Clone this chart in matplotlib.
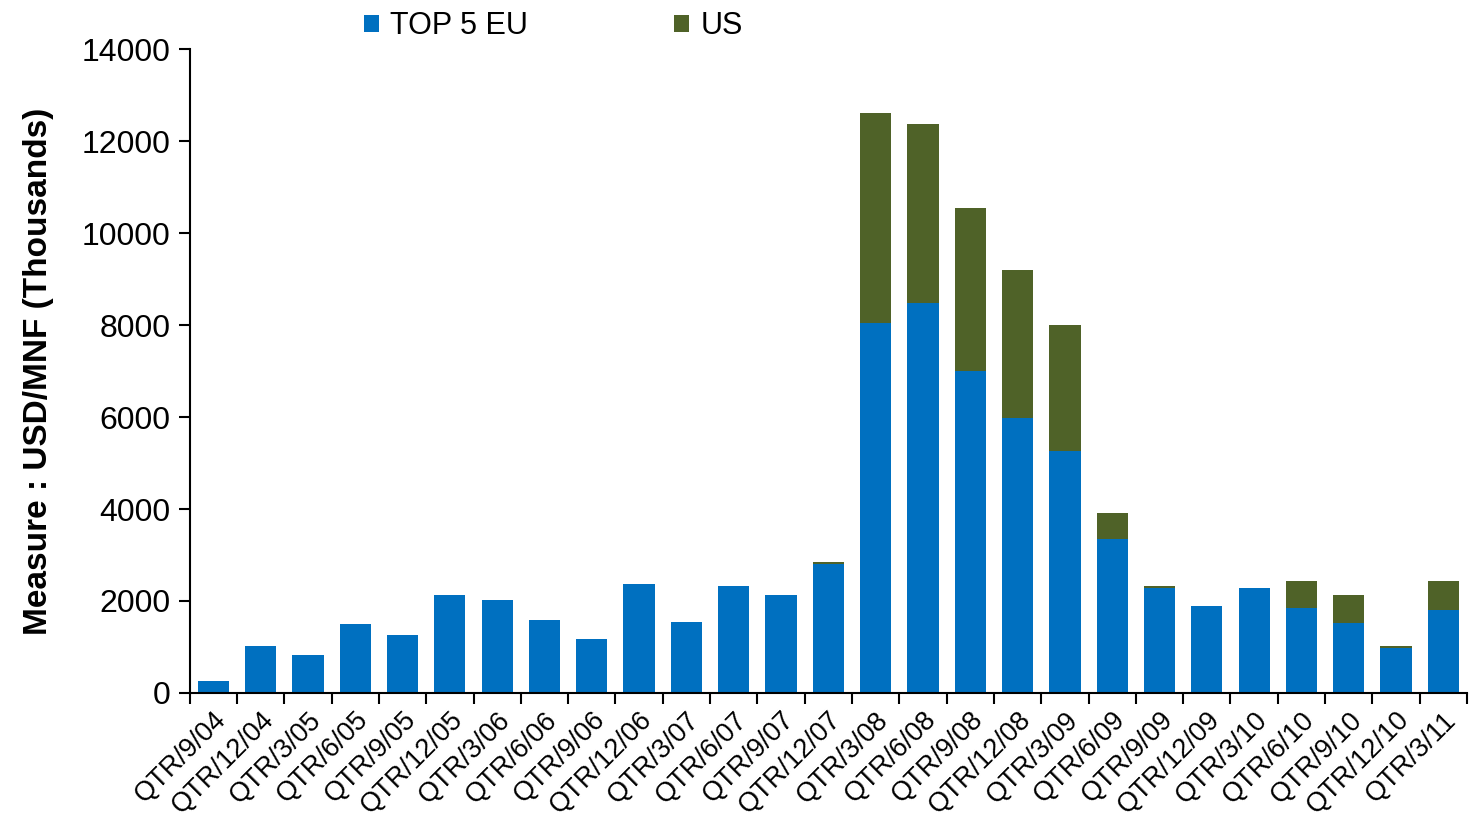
import numpy as np
import matplotlib.pyplot as plt

plt.rcParams['font.family'] = ['Liberation Sans', 'DejaVu Sans']

quarters = ['QTR/9/04', 'QTR/12/04', 'QTR/3/05', 'QTR/6/05', 'QTR/9/05', 'QTR/12/05',
            'QTR/3/06', 'QTR/6/06', 'QTR/9/06', 'QTR/12/06', 'QTR/3/07', 'QTR/6/07',
            'QTR/9/07', 'QTR/12/07', 'QTR/3/08', 'QTR/6/08', 'QTR/9/08', 'QTR/12/08',
            'QTR/3/09', 'QTR/6/09', 'QTR/9/09', 'QTR/12/09', 'QTR/3/10', 'QTR/6/10',
            'QTR/9/10', 'QTR/12/10', 'QTR/3/11']

top5_eu = [260, 1020, 830, 1500, 1260, 2130,
           2020, 1590, 1170, 2370, 1540, 2330,
           2130, 2800, 8040, 8480, 7000, 5980,
           5260, 3350, 2280, 1890, 2280, 1850,
           1520, 980, 1800]

us = [0, 0, 0, 0, 0, 0,
      0, 0, 0, 0, 0, 0,
      0, 50, 4570, 3890, 3540, 3220,
      2740, 570, 45, 0, 0, 590,
      610, 45, 630]

EU_COLOR = '#0070C0'
US_COLOR = '#4F6228'

fig = plt.figure(figsize=(14.7, 8.21), dpi=100)
ax = fig.add_axes([0.129, 0.156, 0.869, 0.784])

x = np.arange(len(quarters))
ax.bar(x, top5_eu, width=0.66, color=EU_COLOR, edgecolor='none', label='TOP 5 EU')
ax.bar(x, us, width=0.66, bottom=top5_eu, color=US_COLOR, edgecolor='none', label='US')

ax.set_xlim(-0.5, len(quarters) - 0.5)
ax.set_ylim(0, 14000)
ax.set_yticks(np.arange(0, 14001, 2000))
ax.tick_params(axis='y', labelsize=23, length=8, width=1.5, direction='out', pad=6)

# category labels at bar centres, tick marks at the boundaries
ax.set_xticks(x)
ax.set_xticklabels(quarters, rotation=45, ha='right', rotation_mode='anchor', fontsize=19.5)
ax.tick_params(axis='x', which='major', length=0, pad=10)
ax.set_xticks(np.arange(-0.5, len(quarters)), minor=True)
ax.tick_params(axis='x', which='minor', length=8, width=1.5, direction='out')

for side in ('top', 'right'):
    ax.spines[side].set_visible(False)
for side in ('left', 'bottom'):
    ax.spines[side].set_linewidth(1.5)

ax.set_ylabel('Measure : USD/MNF (Thousands)', fontsize=24, fontweight='bold', labelpad=20)

fig.legend(loc='upper left', bbox_to_anchor=(0.237, 1.005), ncol=2, frameon=False,
           borderpad=0, fontsize=22, handlelength=0.5, handleheight=0.5,
           handletextpad=0.35, columnspacing=4.8)

fig.savefig('out.png', dpi=100)
